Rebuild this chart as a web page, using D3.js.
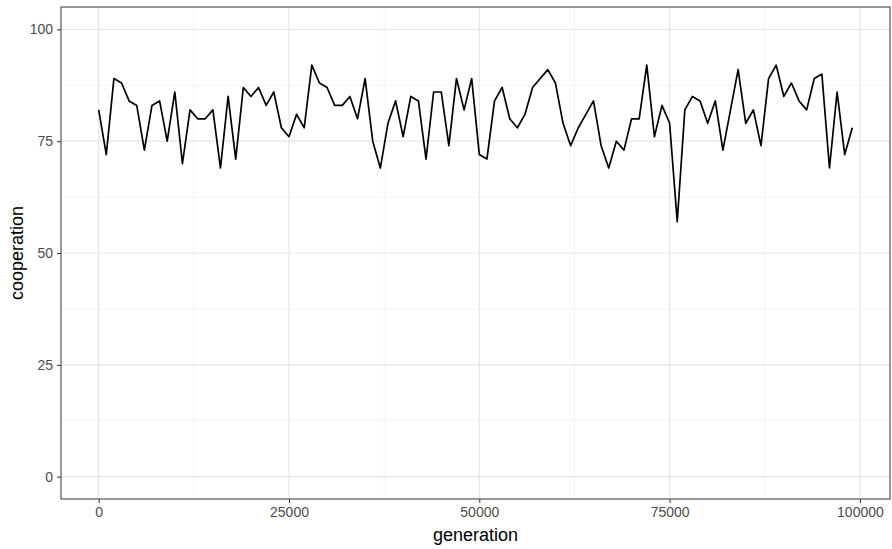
<!DOCTYPE html>
<html>
<head>
<meta charset="utf-8">
<script src="https://cdn.jsdelivr.net/npm/d3@7"></script>
<style>
  body { margin: 0; background: #fff; }
  svg text { font-family: "Liberation Sans", Arial, sans-serif; }
</style>
</head>
<body>
<svg id="chart" width="892" height="549"></svg>
<script>
// cooperation level sampled every 1000 generations
var generations = d3.range(0, 100000, 1000);
var cooperation = [
  82, 72, 89, 88, 84, 83, 73, 83, 84, 75,
  86, 70, 82, 80, 80, 82, 69, 85, 71, 87,
  85, 87, 83, 86, 78, 76, 81, 78, 92, 88,
  87, 83, 83, 85, 80, 89, 75, 69, 79, 84,
  76, 85, 84, 71, 86, 86, 74, 89, 82, 89,
  72, 71, 84, 87, 80, 78, 81, 87, 89, 91,
  88, 79, 74, 78, 81, 84, 74, 69, 75, 73,
  80, 80, 92, 76, 83, 79, 57, 82, 85, 84,
  79, 84, 73, 82, 91, 79, 82, 74, 89, 92,
  85, 88, 84, 82, 89, 90, 69, 86, 72, 78
];
var xTicks = [0, 25000, 50000, 75000, 100000];
var xMinor = [12500, 37500, 62500, 87500];
var yTicks = [0, 25, 50, 75, 100];
var yMinor = [12.5, 37.5, 62.5, 87.5];

(function () {
  var svg = d3.select('#chart');
  var pLeft = 61, pRight = 890, pTop = 7, pBottom = 499;

  // ggplot style 5% expansion around 0..99000 and 0..100
  var x = d3.scaleLinear().domain([-4950, 103950]).range([pLeft, pRight]);
  var y = d3.scaleLinear().domain([-5, 105]).range([pBottom, pTop]);

  var grid = svg.append('g');
  grid.selectAll('.xminor').data(xMinor).enter().append('line')
      .attr('x1', function (d) { return x(d); }).attr('x2', function (d) { return x(d); })
      .attr('y1', pTop).attr('y2', pBottom)
      .attr('stroke', '#ebebeb').attr('stroke-width', 0.6);
  grid.selectAll('.yminor').data(yMinor).enter().append('line')
      .attr('y1', function (d) { return y(d); }).attr('y2', function (d) { return y(d); })
      .attr('x1', pLeft).attr('x2', pRight)
      .attr('stroke', '#ebebeb').attr('stroke-width', 0.6);
  grid.selectAll('.xmajor').data(xTicks).enter().append('line')
      .attr('x1', function (d) { return x(d); }).attr('x2', function (d) { return x(d); })
      .attr('y1', pTop).attr('y2', pBottom)
      .attr('stroke', '#e6e6e6').attr('stroke-width', 1.2);
  grid.selectAll('.ymajor').data(yTicks).enter().append('line')
      .attr('y1', function (d) { return y(d); }).attr('y2', function (d) { return y(d); })
      .attr('x1', pLeft).attr('x2', pRight)
      .attr('stroke', '#e6e6e6').attr('stroke-width', 1.2);

  var line = d3.line()
      .x(function (d, i) { return x(generations[i]); })
      .y(function (d) { return y(d); });

  svg.append('path')
      .datum(cooperation)
      .attr('d', line)
      .attr('fill', 'none')
      .attr('stroke', '#000')
      .attr('stroke-width', 1.7)
      .attr('stroke-linejoin', 'round');

  svg.append('rect')
      .attr('x', pLeft).attr('y', pTop)
      .attr('width', pRight - pLeft).attr('height', pBottom - pTop)
      .attr('fill', 'none').attr('stroke', '#333').attr('stroke-width', 1);

  var xAxis = d3.axisBottom(x).tickValues(xTicks).tickSize(4).tickPadding(4).tickFormat(d3.format('d'));
  var yAxis = d3.axisLeft(y).tickValues(yTicks).tickSize(4).tickPadding(4);

  var gx = svg.append('g').attr('transform', 'translate(0,' + pBottom + ')').call(xAxis);
  var gy = svg.append('g').attr('transform', 'translate(' + pLeft + ',0)').call(yAxis);
  [gx, gy].forEach(function (g) {
    g.select('.domain').remove();
    g.selectAll('.tick line').attr('stroke', '#333').attr('stroke-width', 1);
    g.selectAll('.tick text').attr('fill', '#4d4d4d').style('font-size', '14px');
  });

  svg.append('text')
      .attr('x', (pLeft + pRight) / 2).attr('y', 541)
      .attr('text-anchor', 'middle')
      .style('font-size', '18px')
      .text('generation');

  svg.append('text')
      .attr('transform', 'translate(23,' + ((pTop + pBottom) / 2) + ') rotate(-90)')
      .attr('text-anchor', 'middle')
      .style('font-size', '18px')
      .text('cooperation');
})();
</script>
</body>
</html>
